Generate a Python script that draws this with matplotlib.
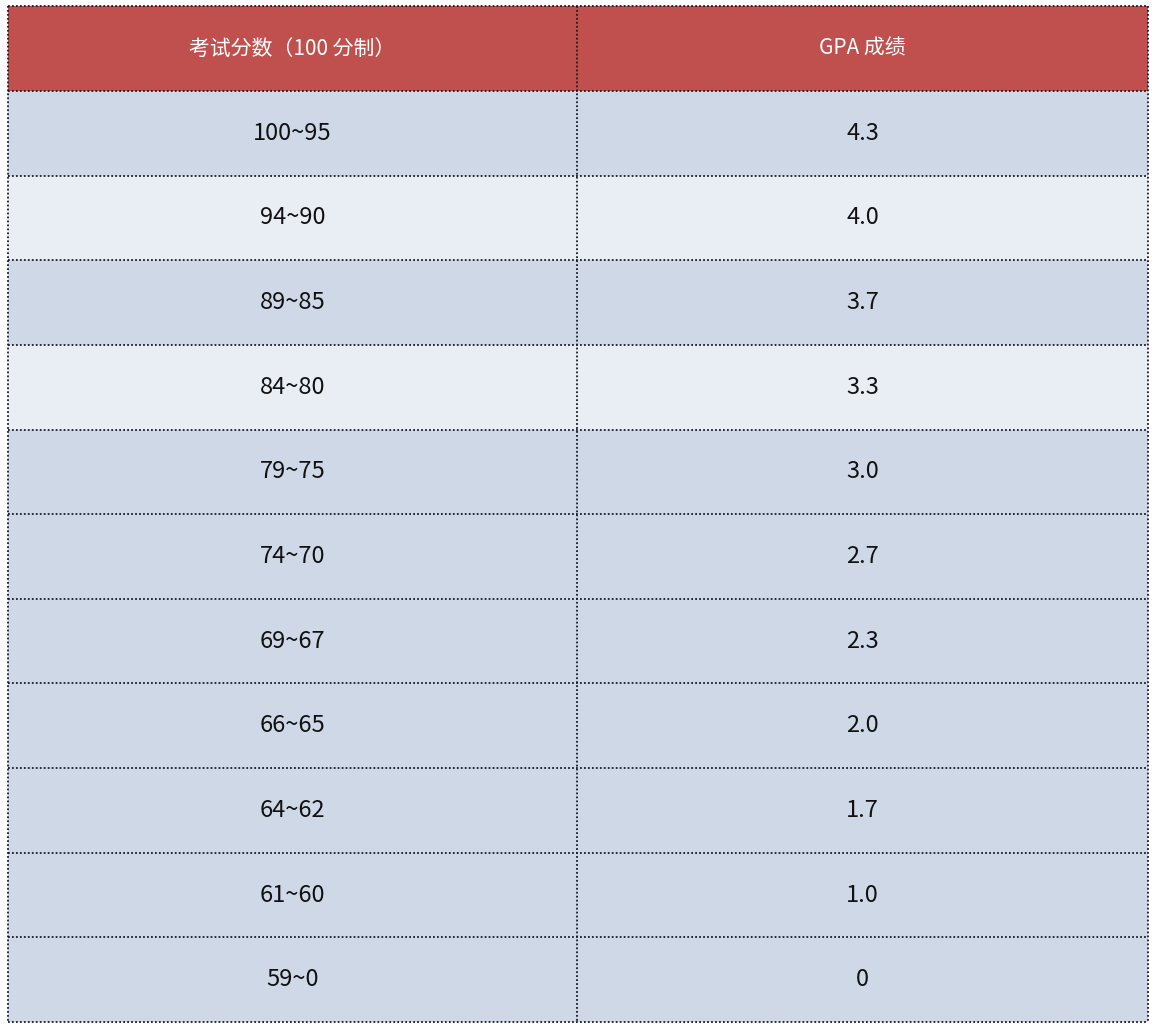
import matplotlib.pyplot as plt
from matplotlib import font_manager
from matplotlib.patches import Rectangle

# 找一个可用的中文字体
names = {f.name for f in font_manager.fontManager.ttflist}
cjk = [n for n in names if 'CJK' in n or 'Noto Sans SC' in n]
plt.rcParams['font.family'] = ['sans-serif']
plt.rcParams['font.sans-serif'] = sorted(cjk) + ['Noto Sans CJK SC', 'DejaVu Sans']

headers = ['考试分数（100 分制）', 'GPA 成绩']
scores = ['100~95', '94~90', '89~85', '84~80', '79~75', '74~70',
          '69~67', '66~65', '64~62', '61~60', '59~0']
gpa = ['4.3', '4.0', '3.7', '3.3', '3.0', '2.7', '2.3', '2.0', '1.7', '1.0', '0']
light_rows = [1, 3]   # 浅色行

W, H = 1156, 1026
left, mid, right = 8, 577, 1148
top, head_bot, bottom = 6, 91, 1022
row_h = (bottom - head_bot) / len(scores)

fig = plt.figure(figsize=(W / 100, H / 100), dpi=100)
ax = fig.add_axes([0, 0, 1, 1])
ax.set_xlim(0, W)
ax.set_ylim(H, 0)
ax.axis('off')

# 表头
ax.add_patch(Rectangle((left, top), right - left, head_bot - top, color='#C0504D', lw=0))
for x0, x1, txt in [(left, mid, headers[0]), (mid, right, headers[1])]:
    ax.text((x0 + x1) / 2, (top + head_bot) / 2, txt, color='white', fontsize=15,
            ha='center', va='center')

# 数据行
for i, (s, g) in enumerate(zip(scores, gpa)):
    y0 = head_bot + i * row_h
    c = '#E9EDF4' if i in light_rows else '#CFD8E6'
    ax.add_patch(Rectangle((left, y0), right - left, row_h, color=c, lw=0))
    ax.text((left + mid) / 2, y0 + row_h / 2, s, fontsize=17, ha='center', va='center', color='#111111')
    ax.text((mid + right) / 2, y0 + row_h / 2, g, fontsize=17, ha='center', va='center', color='#111111')

# 点线边框
ls = dict(color='#1a1a2a', lw=1.3, linestyle=(0, (1, 1.2)))
for i in range(len(scores) + 2):
    y = top if i == 0 else head_bot + (i - 1) * row_h
    ax.plot([left, right], [y, y], **ls)
for x in [left, mid, right]:
    ax.plot([x, x], [top, bottom], **ls)

fig.savefig('out.png', dpi=100)
